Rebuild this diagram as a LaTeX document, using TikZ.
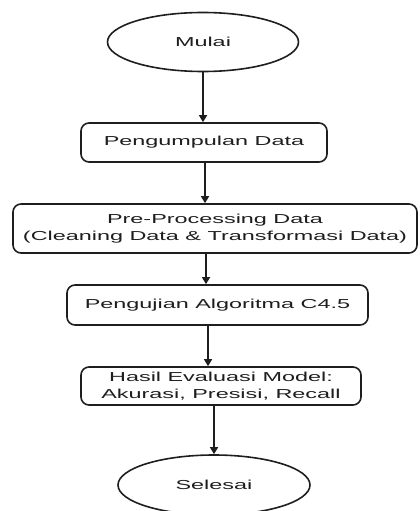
\documentclass[tikz,border=0pt]{standalone}
\usepackage{fontspec}
\usepackage{graphicx}
\usetikzlibrary{shapes.geometric,arrows.meta,calc}
\setmainfont{Liberation Sans}
\newcommand{\wide}[1]{\scalebox{1.8}[1]{#1}}
\definecolor{ink}{HTML}{1E1E1E}
\tikzset{
  every node/.style={font=\fontsize{13}{17}\selectfont, text=ink},
  terminal/.style={draw=ink, line width=1.6pt, ellipse, inner sep=0pt},
  stepbox/.style={draw=ink, line width=1.6pt, rounded corners=8pt, inner sep=0pt, align=center},
  arr/.style={draw=ink, line width=1.3pt, -{Triangle[length=7pt,width=8pt]}}
}
\begin{document}
\begin{tikzpicture}[x=1pt,y=-1pt]
\useasboundingbox (0,0) rectangle (420,511);
\clip (0,0) rectangle (420,511);

\node[terminal, minimum width=191pt, minimum height=59pt] (mulai) at (203,42) {\wide{Mulai}};
\node[stepbox, minimum width=246pt, minimum height=39pt] (kumpul) at (204,142.5) {\wide{Pengumpulan Data}};
\node[stepbox, minimum width=404pt, minimum height=49pt] (prep) at (215,228.5)
  {\wide{Pre-Processing Data}\\\wide{(Cleaning Data \& Transformasi Data)}};
\node[stepbox, minimum width=301pt, minimum height=40pt] (uji) at (217.5,305) {\wide{Pengujian Algoritma C4.5}};
\node[stepbox, minimum width=280pt, minimum height=38pt] (hasil) at (221,386)
  {\wide{Hasil Evaluasi Model:}\\\wide{Akurasi, Presisi, Recall}};
\node[terminal, minimum width=192pt, minimum height=60pt] (selesai) at (214,485) {\wide{Selesai}};

% connector columns, taken from the box above each arrow
\coordinate (c2) at ($(kumpul.south)+(1,0)$);
\coordinate (c3) at ($(kumpul.south)+(2,0)$);
\coordinate (c4) at ($(kumpul.south)+(4,0)$);

\draw[arr] (mulai.south) -- (mulai.south |- kumpul.north);
\draw[arr] (c2) -- (c2 |- prep.north);
\draw[arr] (c3 |- prep.south) -- (c3 |- uji.north);
\draw[arr] (c4 |- uji.south) -- (c4 |- hasil.north);
\draw[arr] (selesai.north |- hasil.south) -- (selesai.north);
\end{tikzpicture}
\end{document}
